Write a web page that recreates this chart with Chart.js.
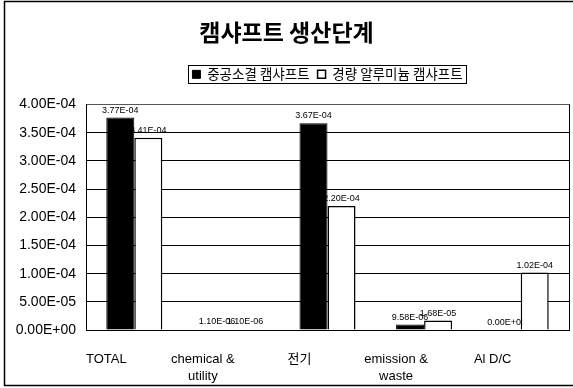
<!DOCTYPE html>
<html>
<head>
<meta charset="utf-8">
<script src="https://cdn.jsdelivr.net/npm/chart.js"></script>
<style>
  html, body { margin: 0; padding: 0; background: #fff; }
  #wrap { width: 573px; height: 388px; }
</style>
</head>
<body>
<div id="wrap"><canvas id="myChart" width="573" height="388"></canvas></div>
<script>
// 생산단계별 값 (중공소결 / 경량 알루미늄)
const categories = ['TOTAL', ['chemical &', 'utility'], '전기', ['emission &', 'waste'], 'Al D/C'];
const seriesNames = ['중공소결 캠샤프트', '경량 알루미늄 캠샤프트'];
const hollowSintered = [3.77e-4, 1.10e-6, 3.67e-4, 9.58e-6, 0];
const lightAluminum = [3.41e-4, 1.10e-6, 2.20e-4, 1.68e-5, 1.02e-4];
const yMin = 0;
const yMax = 4.0e-4;
const yStep = 5.0e-5;

Chart.defaults.font.family = '"Liberation Sans", "Noto Sans CJK KR", Arial, sans-serif';
Chart.defaults.color = '#000';

// 4.00E-04 형식
function sci(v) {
    const parts = Number(v).toExponential(2).split('e');
    const n = parseInt(parts[1], 10);
    return parts[0] + 'E' + (n < 0 ? '-' : '+') + String(Math.abs(n)).padStart(2, '0');
}

// 막대 위 값 표시 (막대보다 먼저 그림)
const valueLabels = {
    id: 'valueLabels',
    beforeDatasetsDraw(chart) {
        const ctx = chart.ctx;
        ctx.save();
        ctx.font = '9px "Liberation Sans", Arial, sans-serif';
        ctx.fillStyle = '#000';
        ctx.textAlign = 'center';
        ctx.textBaseline = 'alphabetic';
        chart.data.datasets.forEach((ds, i) => {
            chart.getDatasetMeta(i).data.forEach((bar, j) => {
                ctx.fillText(sci(ds.data[j]), bar.x, bar.y - 5);
            });
        });
        ctx.restore();
    }
};

// 바깥 테두리, 플롯 오른쪽 선, 범례 상자
const frame = {
    id: 'frame',
    beforeDraw(chart) {
        const ctx = chart.ctx;
        ctx.save();
        ctx.fillStyle = '#fff';
        ctx.fillRect(0, 0, chart.width, chart.height);
        ctx.restore();
    },
    afterDraw(chart) {
        const ctx = chart.ctx;
        const area = chart.chartArea;
        ctx.save();
        ctx.strokeStyle = '#000';
        ctx.lineWidth = 1.5;
        ctx.beginPath();
        ctx.moveTo(chart.width, 1.5);
        ctx.lineTo(4.5, 1.5);
        ctx.lineTo(4.5, 385.5);
        ctx.lineTo(chart.width, 385.5);
        ctx.stroke();

        ctx.lineWidth = 1;
        ctx.beginPath();
        ctx.moveTo(area.right + 0.5, area.top);
        ctx.lineTo(area.right + 0.5, area.bottom);
        ctx.stroke();

        const boxes = chart.legend.legendHitBoxes;
        if (boxes && boxes.length) {
            const first = boxes[0];
            const last = boxes[boxes.length - 1];
            const x0 = Math.round(first.left) - 3.5;
            const x1 = Math.round(last.left + last.width) + 3.5;
            const cy = first.top + first.height / 2;
            ctx.strokeRect(x0, Math.round(cy - 9) + 0.5, x1 - x0, 18);
        }
        ctx.restore();
    }
};

const ctx = document.getElementById('myChart').getContext('2d');
const chart = new Chart(ctx, {
    type: 'bar',
    data: {
        labels: categories,
        datasets: [
            {
                label: seriesNames[0],
                data: hollowSintered,
                backgroundColor: '#000',
                borderColor: '#000',
                borderWidth: 1
            },
            {
                label: seriesNames[1],
                data: lightAluminum,
                backgroundColor: '#fff',
                borderColor: '#000',
                borderWidth: 1.5
            }
        ]
    },
    options: {
        responsive: false,
        animation: false,
        layout: { padding: { left: 4, right: 4, top: 0, bottom: 0 } },
        datasets: {
            bar: { categoryPercentage: 0.58, barPercentage: 1.0 }
        },
        plugins: {
            title: {
                display: true,
                text: '캠샤프트 생산단계',
                color: '#000',
                font: { family: '"Noto Sans CJK KR", sans-serif', size: 23, weight: 'bold' },
                padding: { top: 18, bottom: 14 }
            },
            legend: {
                display: true,
                position: 'top',
                fullSize: false,
                labels: {
                    boxWidth: 8,
                    boxHeight: 8,
                    padding: 8,
                    color: '#000',
                    font: { family: '"Noto Sans CJK KR", sans-serif', size: 13.5 }
                }
            },
            tooltip: { enabled: false }
        },
        scales: {
            x: {
                position: 'bottom',
                grid: { display: false },
                border: { display: true, color: '#000', width: 1 },
                ticks: {
                    color: '#000',
                    padding: 13,
                    labelOffset: -28,
                    maxRotation: 0,
                    autoSkip: false,
                    font: { size: 13, lineHeight: 1.3 }
                },
                afterFit(scale) { scale.height = 58; }
            },
            xTop: {
                type: 'category',
                position: 'top',
                grid: { display: false },
                border: { display: true, color: '#555', width: 1, dash: [1, 1] },
                ticks: { display: false },
                afterFit(scale) { scale.height = 13.5; }
            },
            y: {
                min: yMin,
                max: yMax,
                grid: { color: '#000', lineWidth: 1, drawTicks: false },
                border: { display: true, color: '#000', width: 1 },
                ticks: {
                    stepSize: yStep,
                    color: '#000',
                    padding: 10,
                    font: { size: 14 },
                    callback: (v) => sci(v)
                },
                afterFit(scale) { scale.width = 82; }
            }
        }
    },
    plugins: [valueLabels, frame]
});
</script>
</body>
</html>
